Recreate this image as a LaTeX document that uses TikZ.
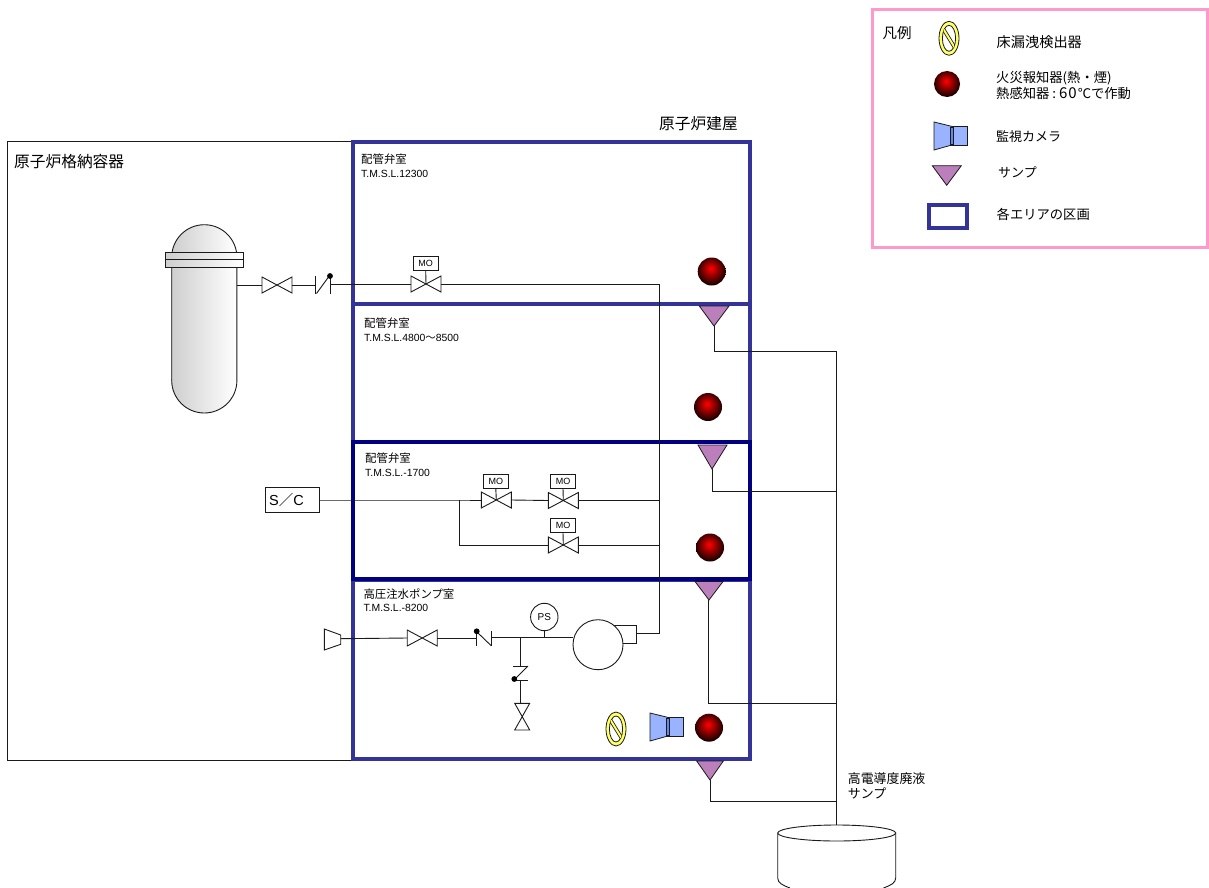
\documentclass[tikz,border=0pt]{standalone}
\usepackage{fontspec}
\setmainfont{Liberation Sans}
\newfontfamily\cjk{Noto Sans CJK JP}
\usetikzlibrary{shapes.geometric}
\definecolor{roomblue}{HTML}{333399}
\definecolor{navyroom}{HTML}{000080}
\definecolor{legendpink}{HTML}{FF99CC}
\definecolor{sumpfill}{HTML}{BB80BB}
\definecolor{camfill}{HTML}{99B3FF}
\definecolor{camdark}{HTML}{6688EE}
\definecolor{ringyellow}{HTML}{FFFF66}
\definecolor{pipeink}{HTML}{1A1A1A}
\pgfdeclareradialshading{fireball}{\pgfpoint{-2bp}{6bp}}{color(0bp)=(red); color(5bp)=(red!85!black); color(13bp)=(red!55!black); color(22bp)=(red!25!black); color(29bp)=(black); color(50bp)=(black)}
\newcommand\jp[2][11.4]{{\cjk\fontsize{#1}{13.5}\selectfont #2}}
\tikzset{
  pipe/.style={draw=pipeink,line width=0.9pt},
  sym/.style={draw=pipeink,line width=0.9pt,fill=white},
  room/.style={draw=roomblue,line width=3.2pt},
  lbl/.style={font=\fontsize{10.4}{13.5}\selectfont,align=left,anchor=west,inner sep=0pt},
  big/.style={font=\cjk\fontsize{15.7}{18}\selectfont,anchor=west,inner sep=0pt},
  leg/.style={font=\cjk\fontsize{13.3}{16.5}\selectfont,align=left,anchor=west,inner sep=0pt},
  tagbox/.style={draw=pipeink,line width=0.9pt,fill=white,minimum width=25pt,minimum height=13.6pt,inner sep=0pt,font=\fontsize{9}{10}\selectfont},
  sumpmark/.style={draw=pipeink,line width=0.8pt,fill=sumpfill,line join=miter},
  rpvshade/.style={draw=pipeink,line width=0.9pt,left color=gray!38,right color=white},
}
% horizontal valve: name, x, y
\newcommand\valveh[3]{%
  \coordinate (#1) at (#2,#3);
  \coordinate (#1-l) at (#2-15,#3);
  \coordinate (#1-r) at (#2+15,#3);
  \draw[sym] (#2-15,#3-8) -- (#2+15,#3+8) -- (#2+15,#3-8) -- (#2-15,#3+8) -- cycle;}
% motor-operated tag above a valve: name, x, y, valve
\newcommand\motortag[4]{%
  \node[tagbox] (#1) at (#2,#3) {MO};
  \draw[pipe] (#1.south) -- (#4);}
\newcommand\fire[3]{\shade[shading=fireball] (#2,#3) circle [radius=14] coordinate (#1);}
\newcommand\leak[3]{%
  \coordinate (#1) at (#2,#3);
  \draw[draw=pipeink,line width=0.8pt,fill=ringyellow] (#2,#3) ellipse [x radius=10,y radius=17];
  \draw[draw=pipeink,line width=0.8pt,fill=white] (#2,#3) ellipse [x radius=6.6,y radius=13];
  \begin{scope}
    \clip (#2,#3) ellipse [x radius=6.6,y radius=13];
    \draw[pipeink,line width=3.6pt] (#2-8,#3-13) -- (#2+8,#3+13);
    \draw[ringyellow,line width=2pt] (#2-8,#3-13) -- (#2+8,#3+13);
  \end{scope}}
\newcommand\camera[3]{%
  \coordinate (#1) at (#2,#3);
  \draw[draw=pipeink,line width=0.8pt,fill=camfill] (#2-15.5,#3+8.7) rectangle (#2+1.5,#3-9.7);
  \draw[draw=pipeink,line width=0.8pt,fill=camfill] (#2-32,#3-14.5) -- (#2-32,#3+13.5) -- (#2-12.5,#3+8) -- (#2-12.5,#3-9.7) -- cycle;
  \draw[draw=pipeink,line width=0.5pt,fill=camdark] (#2-16,#3-9.2) rectangle (#2-12.5,#3+8.2);}
% sump triangle: name, x left, x right, y top, x apex, y apex
\newcommand\sump[6]{%
  \draw[sumpmark] (#2,#4) -- (#3,#4) -- (#5,#6) -- cycle;
  \coordinate (#1) at (#5,#6);}
\begin{document}
\begin{tikzpicture}[x=1pt,y=-1pt]
\useasboundingbox (0,0) rectangle (1209,888);
\fill[white] (0,0) rectangle (1209,888);

% legend frame
\draw[legendpink,line width=3pt] (872.5,10) rectangle (1207.5,247);

% containment
\draw[pipe] (7,141) rectangle (352,760);

% reactor vessel
\draw[rpvshade] (171.7,380.4) -- (171.7,257.3) arc[start angle=180,end angle=360,radius=32.6] -- (236.9,380.4) arc[start angle=0,end angle=180,radius=32.6] -- cycle;
\draw[rpvshade] (165.7,252) rectangle (243,267.3);
\draw[pipe] (165.7,259.7) -- (243,259.7);
\coordinate (rpvout) at (237,285);

% rooms
\draw[room] (353,142) rectangle (750,759);
\draw[room] (353,304) -- (750,304);
\draw[room] (353,580) -- (750,580);
\draw[navyroom,line width=3.2pt] (353,442) rectangle (750,579);

% junctions
\coordinate (riser-top) at (659,284);
\coordinate (riser-bot) at (659,633.5);
\coordinate (hdr1) at (659,500.5);
\coordinate (hdr2) at (659,545);
\coordinate (branch-a) at (459.5,500);
\coordinate (branch-b) at (459.5,545);
\coordinate (bus-top) at (836.7,351);
\coordinate (bus2) at (836.7,491.5);
\coordinate (bus3) at (836.7,703);
\coordinate (bus4) at (836.7,801);
\coordinate (tanktop) at (836.7,825);

% top line
\valveh{v0}{277}{285}
\draw[pipe] (rpvout) -- (v0-l);
\coordinate (chk1-a) at (315.3,285);
\coordinate (chk1-b) at (330,284);
\draw[pipe] (v0-r) -- (chk1-a);
\draw[pipe] (315.3,276) -- (315.3,294);
\draw[pipe] (316.5,293.5) -- (328.5,277);
\draw[pipe] (330,276) -- (330,293.5);
\fill[black] (330,276) circle [radius=2.9];
\valveh{v1}{426}{284}
\motortag{mo1}{425.7}{263.7}{v1}
\draw[pipe] (chk1-b) -- (v1-l);
\draw[pipe] (v1-r) -- (riser-top) -- (riser-bot);

% S/C lines
\node[draw=pipeink,line width=0.9pt,fill=white,text width=46pt,inner xsep=4.25pt,minimum height=25.5pt,inner ysep=0pt,align=left,font=\fontsize{14.5}{16}\selectfont] (sc) at (292.2,500) {S{\cjk ／}C};
\valveh{v2}{496.3}{500}
\valveh{v3}{563.3}{500.5}
\valveh{v4}{563.3}{545}
\motortag{mo2}{495.8}{481.2}{v2}
\motortag{mo3}{563}{481.2}{v3}
\motortag{mo4}{563}{525.7}{v4}
\draw[pipe] (sc.east) -- (branch-a) -- (v2-l);
\draw[pipe] (v2-r) -- (v3-l);
\draw[pipe] (v3-r) -- (hdr1);
\draw[pipe] (branch-a) -- (branch-b) -- (v4-l);
\draw[pipe] (v4-r) -- (hdr2);

% pump room
\draw[sym] (324.3,629) -- (324.3,650) -- (340.7,644.3) -- (340.7,635) -- cycle;
\coordinate (red-out) at (340.7,638.7);
\valveh{v5}{422.2}{638}
\draw[pipe] (red-out) -- (v5-l);
\coordinate (chk2-a) at (476.7,638);
\coordinate (chk2-b) at (491.7,637.3);
\draw[pipe] (v5-r) -- (chk2-a);
\draw[pipe] (476.7,632) -- (476.7,645.7);
\draw[pipe] (477.5,632.5) -- (491,645.5);
\draw[pipe] (491.7,631) -- (491.7,645.7);
\fill[black] (476.7,631.3) circle [radius=2.9];
\coordinate (tee) at (520.3,637.3);
\coordinate (ps-tee) at (544.3,637.3);
\node[draw=pipeink,line width=0.9pt,fill=white,circle,minimum size=27.4pt,inner sep=0pt,font=\fontsize{10}{11}\selectfont] (ps) at (544.3,617) {PS};
\draw[pipe] (ps.south) -- (ps-tee);
\draw[pipe] (613,625) -- (636.7,625) -- (636.7,643.3) -- (622,643.3);
\node[draw=pipeink,line width=0.9pt,fill=white,circle,minimum size=50pt,inner sep=0pt] (pump) at (598,644.7) {};
\coordinate (pump-out) at (636.7,633.5);
\draw[pipe] (chk2-b) -- (pump.west |- chk2-b);
\draw[pipe] (pump-out) -- (riser-bot);
% branch down
\coordinate (chk3-a) at (520.3,666);
\coordinate (chk3-b) at (520.3,680.7);
\coordinate (v6-t) at (520.3,703.3);
\draw[pipe] (tee) -- (chk3-a);
\draw[pipe] (513,666) -- (528,666);
\draw[pipe] (528,666) -- (514.5,679.5);
\draw[pipe] (513,680.7) -- (528,680.7);
\fill[black] (514.3,679) circle [radius=2.9];
\draw[pipe] (chk3-b) -- (v6-t);
\draw[sym] (514.7,703.3) -- (529.7,703.3) -- (514.7,730) -- (529.7,730) -- cycle;

% sumps and drain lines
\coordinate (d1) at (714,351);
\coordinate (d2) at (712,491.5);
\coordinate (d3) at (708.5,703);
\coordinate (d4) at (710,801);
\sump{s1}{699.3}{729}{306}{714}{326}
\sump{s2}{698}{727}{445}{712}{469}
\sump{s3}{695}{723}{581.5}{709}{600}
\sump{s4}{696.7}{723.3}{761}{710}{780}
\draw[pipe] (s1) -- (d1) -- (bus-top) -- (tanktop);
\draw[pipe] (s2) -- (d2) -- (bus2);
\draw[pipe] (s3 -| d3) -- (d3) -- (bus3);
\draw[pipe] (s4) -- (d4) -- (bus4);

% tank
\draw[pipe] (777.7,833) -- (777.7,878) .. controls (778,883) and (782,885) .. (790,888);
\draw[pipe] (895.7,833) -- (895.7,878) .. controls (895.4,883) and (891.4,885) .. (883.4,888);
\draw[sym] (836.7,833) ellipse [x radius=59,y radius=8];

% detectors
\fire{f1}{711.7}{271.5}
\fire{f2}{708}{407}
\fire{f3}{710}{547.5}
\fire{f4}{709}{727.7}
\leak{lk1}{616}{729}
\camera{cam1}{682}{727.5}

% texts in the main picture
\node[big] (t-cv) at (14,162) {原子炉格納容器};
\node[big] (t-rb) at (659,124) {原子炉建屋};
\node[lbl] (r1) at (361,165.5) {\jp{配管弁室}\\T.M.S.L.12300};
\node[lbl] (r2) at (364,329.5) {\jp{配管弁室}\\T.M.S.L.4800{\cjk 〜}8500};
\node[lbl] (r3) at (365,464.5) {\jp{配管弁室}\\T.M.S.L.-1700};
\node[lbl] (r4) at (363.3,600) {\jp{高圧注水ポンプ室}\\T.M.S.L.-8200};
\node[leg,font=\cjk\fontsize{12.9}{15}\selectfont] (t-sump) at (847.7,785.5) {高電導度廃液\\サンプ};

% legend
\node[big] (l0) at (882.5,33) {\fontsize{14.5}{16}\selectfont 凡例};
\leak{lk0}{949}{38.3}
\node[leg,font=\cjk\fontsize{14.2}{16.5}\selectfont] (l1) at (996.5,42) {床漏洩検出器};
\shade[shading=fireball] (947,84) circle [radius=13] coordinate (f0);
\node[leg] (l2) at (996,85.5) {火災報知器(熱・煙)\\熱感知器\hspace{3pt}:\hspace{3pt}{\fontsize{15}{16.5}\selectfont 6\hspace{1pt}0}\hspace{1pt}℃で作動};
\camera{cam0}{966}{136.5}
\node[leg,font=\cjk\fontsize{13}{15}\selectfont] (l3) at (996,137) {監視カメラ};
\sump{s0}{932.3}{961.3}{165.7}{946.7}{185.3}
\node[leg,font=\cjk\fontsize{13}{15}\selectfont] (l4) at (998,172.5) {サンプ};
\draw[roomblue,line width=4pt] (928.7,204.7) rectangle (967,228);
\node[leg] (l5) at (996.5,214) {各エリアの区画};
\end{tikzpicture}
\end{document}
